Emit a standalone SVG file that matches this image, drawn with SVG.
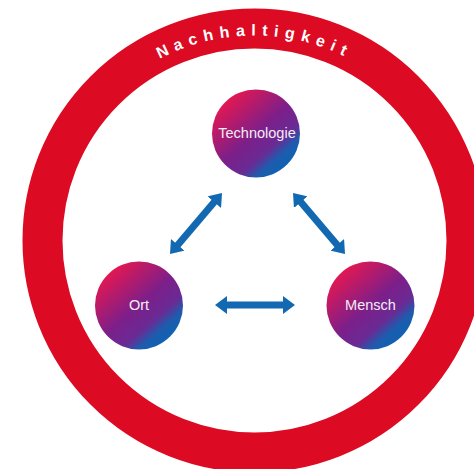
<svg xmlns="http://www.w3.org/2000/svg" width="474" height="469" viewBox="0 0 474 469">
  <style>
    .ring { fill: none; stroke: #dc0a23; stroke-width: 40; }
    .ringlabel { font-family: "Liberation Sans", Arial, sans-serif; font-weight: bold; font-size: 16px; letter-spacing: 6.3px; fill: #ffffff; }
    .node { fill: url(#nodeGrad); }
    .label { font-family: "Liberation Sans", Arial, sans-serif; font-size: 14.5px; fill: #f6ecf4; text-anchor: middle; }
    .conn { stroke: #1269b1; stroke-width: 7; fill: none; marker-start: url(#head); marker-end: url(#head); }
  </style>
  <defs>
    <linearGradient id="nodeGrad" x1="0.15" y1="0.1" x2="0.85" y2="0.9">
      <stop offset="0" stop-color="#e8174f"/>
      <stop offset="0.5" stop-color="#7c1f8a"/>
      <stop offset="0.72" stop-color="#6a2a94"/>
      <stop offset="0.85" stop-color="#1d5cae"/>
      <stop offset="1" stop-color="#0d63b3"/>
    </linearGradient>
    <marker id="head" viewBox="0 0 12 18" markerWidth="12" markerHeight="18" refX="4" refY="9" markerUnits="userSpaceOnUse" orient="auto-start-reverse">
      <path d="M0,0 L12,9 L0,18 Z" fill="#1269b1"/>
    </marker>
    <path id="arcPath" d="M 49.5,240.5 A 205 205 0 0 1 459.5,240.5"/>
  </defs>

  <g id="nachhaltigkeit">
    <circle class="ring" cx="254.5" cy="240.5" r="212"/>
    <text class="ringlabel"><textPath href="#arcPath" startOffset="50%" text-anchor="middle">Nachhaltigkeit</textPath></text>
  </g>

  <g id="connectors">
    <line class="conn" x1="175.2" y1="247.9" x2="216.8" y2="199.1"/>
    <line class="conn" x1="298.2" y1="199.1" x2="339.8" y2="247.9"/>
    <line class="conn" x1="223" y1="305" x2="287" y2="305"/>
  </g>

  <g id="technologie">
    <circle class="node" cx="256" cy="133.5" r="44"/>
    <text class="label" x="257" y="138.3">Technologie</text>
  </g>
  <g id="ort">
    <circle class="node" cx="139" cy="305.5" r="44"/>
    <text class="label" x="139" y="310">Ort</text>
  </g>
  <g id="mensch">
    <circle class="node" cx="370.5" cy="305.5" r="44"/>
    <text class="label" x="370.5" y="310">Mensch</text>
  </g>
</svg>
